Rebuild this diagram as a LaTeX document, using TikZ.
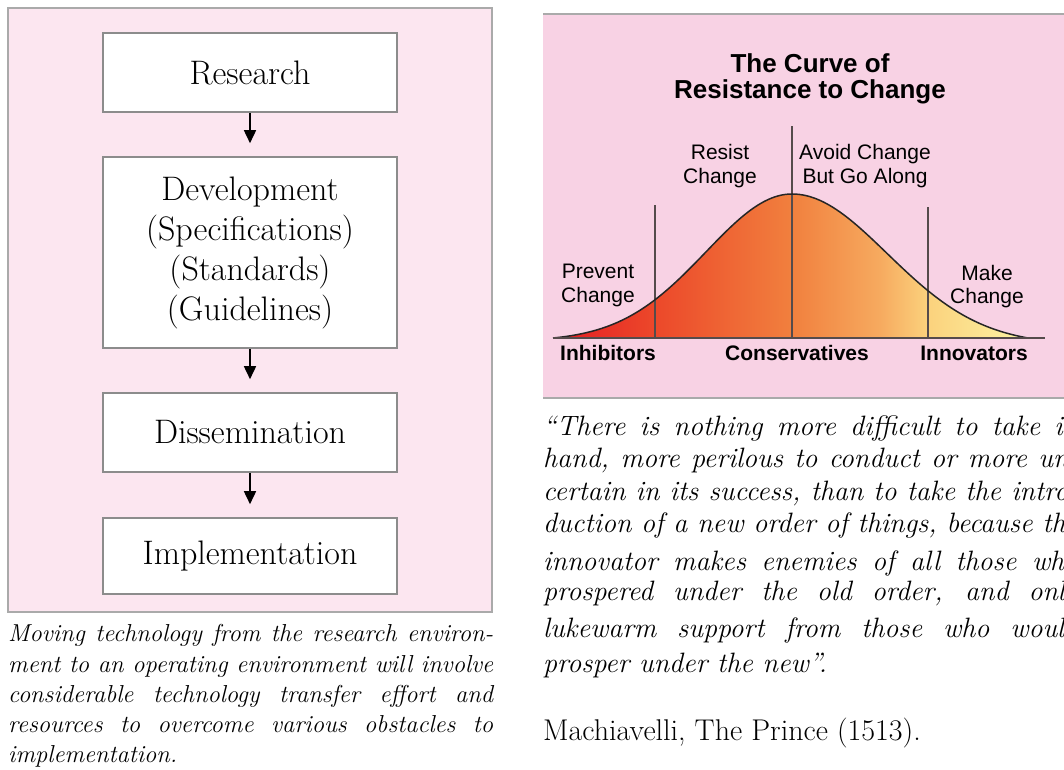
\documentclass[tikz,border=0pt]{standalone}
\usepackage{fontspec}
\newfontfamily\labelsans{Liberation Sans}
\usetikzlibrary{arrows.meta}
\definecolor{pinkL}{RGB}{252,230,240}
\definecolor{pinkR}{RGB}{248,210,228}
\definecolor{panelgray}{RGB}{170,170,170}
\definecolor{boxgray}{RGB}{140,140,140}
\definecolor{linegray}{RGB}{85,75,75}
\definecolor{cA}{RGB}{228,28,36}
\definecolor{cB}{RGB}{236,72,42}
\definecolor{cC}{RGB}{241,128,62}
\definecolor{cD}{RGB}{246,170,95}
\definecolor{cE}{RGB}{251,210,125}
\definecolor{cF}{RGB}{252,245,165}
\pgfdeclarehorizontalshading{curveshade}{100bp}{color(0bp)=(cA); color(25bp)=(cA); color(35.7bp)=(cB); color(50.2bp)=(cC); color(59.4bp)=(cD); color(64.5bp)=(cE); color(75bp)=(cF); color(100bp)=(cF)}
\begin{document}
\begin{tikzpicture}[x=1pt,y=-1pt,
  flowbox/.style={draw=boxgray, line width=1.6pt, fill=white, minimum width=294pt, inner sep=0pt, align=center, font=\fontsize{34}{40}\selectfont},
  flowarrow/.style={-{Triangle[width=12pt,length=13pt]}, line width=1.6pt, black, shorten >=13pt},
  captl/.style={anchor=base west, inner sep=0pt, font=\fontsize{24.5}{30}\selectfont\itshape},
  quotel/.style={anchor=base west, inner sep=0pt, font=\fontsize{28}{33}\selectfont\itshape},
  lbl/.style={anchor=base, inner sep=0pt, font=\labelsans\fontsize{21}{24}\selectfont},
  lblbold/.style={anchor=base, inner sep=0pt, font=\labelsans\bfseries\fontsize{21}{24}\selectfont},
  ttl/.style={anchor=base, inner sep=0pt, font=\labelsans\bfseries\fontsize{26}{26}\selectfont},
  vline/.style={draw=linegray, line width=1.5pt}
]
\useasboundingbox (0,0) rectangle (1064,769);
\clip (0,0) rectangle (1064,769);
\fill[white] (0,0) rectangle (1064,769);

% ---------- left panel ----------
\draw[fill=pinkL, draw=panelgray, line width=2pt] (8,8) rectangle (492,612);
\node[flowbox, minimum height=79pt] (res) at (250,72.5) {Research};
\node[flowbox, minimum height=191pt] (dev) at (250,252.5) {Development\\(Specifications)\\(Standards)\\(Guidelines)};
\node[flowbox, minimum height=79pt] (dis) at (250,432.5) {Dissemination};
\node[flowbox, minimum height=76pt] (imp) at (250,556) {Implementation};
\draw[flowarrow] (res) -- (dev);
\draw[flowarrow] (dev) -- (dis);
\draw[flowarrow] (dis) -- (imp);

\node[captl] (c1) at (8,641) {\makebox[485pt][s]{Moving technology from the research environ-}};
\node[captl] (c2) at (8,672) {\makebox[485pt][s]{ment to an operating environment will involve}};
\node[captl] (c3) at (8,702) {\makebox[485pt][s]{considerable technology transfer effort and}};
\node[captl] (c4) at (8,732) {\makebox[485pt][s]{resources to overcome various obstacles to}};
\node[captl] (c5) at (8,762) {implementation.};

% ---------- right panel ----------
\fill[pinkR] (543,14) rectangle (1070,398);
\draw[panelgray, line width=2pt] (543,14) -- (1070,14);
\draw[panelgray, line width=2pt] (543,398) -- (1070,398);

\node[ttl] (t1) at (810,72) {The Curve of};
\node[ttl] (t2) at (810,98) {Resistance to Change};

\shade[shading=curveshade] (553,338)
  -- plot[domain=553:792, samples=70] (\x,{338-144*(exp(-0.5*((\x-792)/86)^2)-0.021)/0.979})
  -- plot[domain=792:1028, samples=70] (\x,{338-144*(exp(-0.5*((\x-792)/95)^2)-0.0457)/0.9543})
  -- (1028,338) -- cycle;
\draw[vline] (655,205) -- (655,338);
\draw[vline] (792,126) -- (792,338);
\draw[vline] (928,207) -- (928,338);
\draw[black!85, line width=1.5pt] (553,338)
  -- plot[domain=553:792, samples=70] (\x,{338-144*(exp(-0.5*((\x-792)/86)^2)-0.021)/0.979})
  -- plot[domain=792:1028, samples=70] (\x,{338-144*(exp(-0.5*((\x-792)/95)^2)-0.0457)/0.9543});
\draw[linegray, line width=2pt] (553,338) -- (1045,338);

\node[lbl] (l1a) at (720,159) {Resist};
\node[lbl] (l1b) at (720,183) {Change};
\node[lbl] (l2a) at (865,159) {Avoid Change};
\node[lbl] (l2b) at (865,183) {But Go Along};
\node[lbl] (l3a) at (598,278) {Prevent};
\node[lbl] (l3b) at (598,302) {Change};
\node[lbl] (l4a) at (987,280) {Make};
\node[lbl] (l4b) at (987,303) {Change};

\node[lblbold] (b1) at (608,360) {Inhibitors};
\node[lblbold] (b2) at (797,360) {Conservatives};
\node[lblbold] (b3) at (974,360) {Innovators};

\node[quotel] (q1) at (543,435) {\makebox[535pt][s]{“There is nothing more difficult to take in}};
\node[quotel] (q2) at (543,467) {\makebox[535pt][s]{hand, more perilous to conduct or more un-}};
\node[quotel] (q3) at (543,500) {\makebox[535pt][s]{certain in its success, than to take the intro-}};
\node[quotel] (q4) at (543,532) {\makebox[535pt][s]{duction of a new order of things, because the}};
\node[quotel] (q5) at (543,570) {\makebox[535pt][s]{innovator makes enemies of all those who}};
\node[quotel] (q6) at (543,600) {\makebox[535pt][s]{prospered under the old order, and only}};
\node[quotel] (q7) at (543,637) {\makebox[535pt][s]{lukewarm support from those who would}};
\node[quotel] (q8) at (543,672) {prosper under the new”.};

\node[anchor=base west, inner sep=0pt, font=\fontsize{30}{32}\selectfont] (mach) at (543,740) {Machiavelli, The Prince (1513).};
\end{tikzpicture}
\end{document}
